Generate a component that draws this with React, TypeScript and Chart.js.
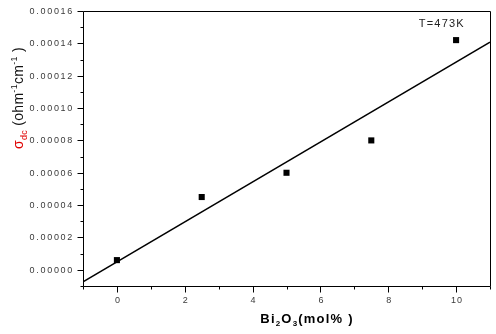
import React, { useEffect, useRef } from "react";
import { Chart, registerables } from "chart.js";

Chart.register(...registerables);

// Data
const sampleX = [0, 2.5, 5, 7.5, 10];
const sampleY = [0.000006, 0.000045, 0.00006, 0.00008, 0.000142];
const fitX = [-1, 11];
const fitY = [-0.0000074, 0.0001407];
const xTicks = [0, 2, 4, 6, 8, 10];
const xMinorTicks = [-1, 1, 3, 5, 7, 9, 11];
const yTicks = [0, 0.00002, 0.00004, 0.00006, 0.00008, 0.0001, 0.00012, 0.00014, 0.00016];
const yTickLabels = ["0.00000", "0.00002", "0.00004", "0.00006", "0.00008", "0.00010", "0.00012", "0.00014", "0.00016"];
const yMinorTicks = [-0.00001, 0.00001, 0.00003, 0.00005, 0.00007, 0.00009, 0.00011, 0.00013, 0.00015];
const annotation = { text: "T=473K", x: 9.58, y: 0.000152 };

const FONT = "'Liberation Sans', Arial, sans-serif";

type Seg = { t: string; size: number; bold?: boolean; color: string; dy: number };

function drawSegs(ctx: CanvasRenderingContext2D, segs: Seg[], cx: number, baseY: number, spacing: number) {
  ctx.save();
  (ctx as any).letterSpacing = spacing + "px";
  const widths = segs.map((s) => {
    ctx.font = `${s.bold ? "bold " : ""}${s.size}px ${FONT}`;
    return ctx.measureText(s.t).width;
  });
  const total = widths.reduce((a, b) => a + b, 0);
  let x = cx - total / 2;
  ctx.textAlign = "left";
  ctx.textBaseline = "alphabetic";
  segs.forEach((s, i) => {
    ctx.font = `${s.bold ? "bold " : ""}${s.size}px ${FONT}`;
    ctx.fillStyle = s.color;
    ctx.fillText(s.t, x, baseY + s.dy);
    x += widths[i];
  });
  ctx.restore();
}

const framePlugin = {
  id: "originFrame",
  afterDraw(chart: any) {
    const { ctx, chartArea: a, scales } = chart;
    const xs = scales.x;
    const ys = scales.y;
    ctx.save();
    ctx.strokeStyle = "#000";
    ctx.lineWidth = 1;
    ctx.beginPath();
    ctx.rect(Math.round(a.left) + 0.5, Math.round(a.top) + 0.5, Math.round(a.right - a.left), Math.round(a.bottom - a.top));
    ctx.stroke();
    ctx.beginPath();
    const bx = Math.round(a.left) + 0.5;
    const by = Math.round(a.bottom) + 0.5;
    xTicks.forEach((v) => {
      const p = Math.round(xs.getPixelForValue(v)) + 0.5;
      ctx.moveTo(p, by);
      ctx.lineTo(p, by + 6);
    });
    xMinorTicks.forEach((v) => {
      const p = Math.round(xs.getPixelForValue(v)) + 0.5;
      ctx.moveTo(p, by);
      ctx.lineTo(p, by + 3);
    });
    yTicks.forEach((v) => {
      const p = Math.round(ys.getPixelForValue(v)) + 0.5;
      ctx.moveTo(bx, p);
      ctx.lineTo(bx - 6, p);
    });
    yMinorTicks.forEach((v) => {
      const p = Math.round(ys.getPixelForValue(v)) + 0.5;
      ctx.moveTo(bx, p);
      ctx.lineTo(bx - 3, p);
    });
    ctx.stroke();

    // tick labels
    (ctx as any).letterSpacing = "1.7px";
    ctx.font = `9px ${FONT}`;
    ctx.fillStyle = "#3a3a3a";
    ctx.textBaseline = "middle";
    ctx.textAlign = "right";
    yTicks.forEach((v, i) => {
      ctx.fillText(yTickLabels[i], a.left - 9, ys.getPixelForValue(v) + 0.5);
    });
    (ctx as any).letterSpacing = "1px";
    ctx.textAlign = "center";
    xTicks.forEach((v) => {
      ctx.fillText(String(v), xs.getPixelForValue(v) + 1, by + 14);
    });

    // annotation
    (ctx as any).letterSpacing = "1.2px";
    ctx.font = `11px ${FONT}`;
    ctx.fillStyle = "#222";
    ctx.fillText(annotation.text, xs.getPixelForValue(annotation.x), ys.getPixelForValue(annotation.y));
    (ctx as any).letterSpacing = "0px";
    ctx.restore();

    // x title
    drawSegs(
      ctx,
      [
        { t: "Bi", size: 13, bold: true, color: "#000", dy: 0 },
        { t: "2", size: 8, bold: true, color: "#000", dy: 3 },
        { t: "O", size: 13, bold: true, color: "#000", dy: 0 },
        { t: "3", size: 8, bold: true, color: "#000", dy: 3 },
        { t: "(mol% )", size: 13, bold: true, color: "#000", dy: 0 },
      ],
      307,
      323,
      1.2
    );

    // y title (rotated)
    ctx.save();
    ctx.translate(23, 98);
    ctx.rotate(-Math.PI / 2);
    drawSegs(
      ctx,
      [
        { t: "σ", size: 14, color: "#e00000", dy: 0 },
        { t: "dc", size: 9, color: "#e00000", dy: 4 },
        { t: " (ohm", size: 14, color: "#111", dy: 0 },
        { t: "-1", size: 9, color: "#111", dy: -6 },
        { t: "cm", size: 14, color: "#111", dy: 0 },
        { t: "-1", size: 9, color: "#111", dy: -6 },
        { t: " )", size: 14, color: "#111", dy: 0 },
      ],
      0,
      0,
      0.3
    );
    ctx.restore();
  },
};

export default function App() {
  const ref = useRef<HTMLCanvasElement | null>(null);
  useEffect(() => {
    if (!ref.current) return;
    const chart = new Chart(ref.current, {
      type: "scatter",
      data: {
        datasets: [
          {
            label: "fit",
            type: "line",
            data: fitX.map((x, i) => ({ x, y: fitY[i] })),
            borderColor: "#000",
            borderWidth: 1.5,
            pointRadius: 0,
            fill: false,
          },
          {
            label: "data",
            data: sampleX.map((x, i) => ({ x, y: sampleY[i] })),
            pointStyle: "rect",
            pointRadius: 4.3,
            backgroundColor: "#000",
            borderColor: "#000",
            borderWidth: 0,
          },
        ],
      },
      options: {
        responsive: false,
        animation: false,
        devicePixelRatio: 1,
        layout: { padding: { top: 11, right: 6, left: 0, bottom: 0 } },
        plugins: { legend: { display: false }, tooltip: { enabled: false } },
        scales: {
          x: {
            type: "linear",
            min: -1,
            max: 11,
            grid: { display: false },
            border: { display: false },
            ticks: { display: false },
            afterFit: (s: any) => {
              s.height = 48;
            },
          },
          y: {
            type: "linear",
            min: -0.00001,
            max: 0.00016,
            grid: { display: false },
            border: { display: false },
            ticks: { display: false },
            afterFit: (s: any) => {
              s.width = 83;
            },
          },
        },
      },
      plugins: [framePlugin],
    } as any);
    return () => chart.destroy();
  }, []);
  return (
    <div style={{ position: "fixed", left: 0, top: 0, width: 496, height: 334, background: "#fff" }}>
      <canvas ref={ref} width={496} height={334} />
    </div>
  );
}
